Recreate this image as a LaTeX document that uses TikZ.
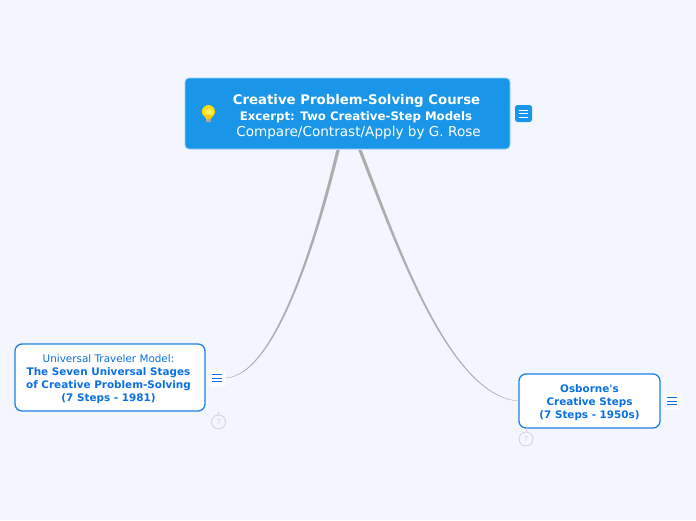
\documentclass[tikz,border=0pt]{standalone}
\usepackage{fontspec}
\setmainfont{DejaVu Sans}
\usetikzlibrary{calc}
\definecolor{pagebg}{HTML}{F3F6FF}
\definecolor{rootblue}{HTML}{1A96E9}
\definecolor{nodeblue}{HTML}{1E82E6}
\definecolor{textblue}{HTML}{0A70E4}
\definecolor{branchgray}{HTML}{ACACAC}
\definecolor{badgegray}{HTML}{CDD1D8}
\tikzset{
  rootbox/.style={draw=white!55!rootblue,fill=rootblue,rounded corners=4pt,line width=0.8pt,
    minimum width=325pt,minimum height=71pt,inner sep=0pt},
  topicbox/.style={draw=nodeblue,fill=white,rounded corners=7pt,line width=1.3pt,inner sep=0pt},
  topictext/.style={align=center,text=textblue,inner sep=0pt,font=\fontsize{10.4}{13.1}\selectfont},
  menubox/.style={rounded corners=2.5pt,minimum size=17pt,inner sep=0pt},
  badge/.style={draw=badgegray,fill=pagebg,circle,line width=0.8pt,minimum size=14pt,inner sep=0pt,
    text=badgegray,font=\fontsize{7}{7}\selectfont},
  branch/.style={draw=branchgray,fill=branchgray,line width=0.2pt,line join=round},
  stem/.style={draw=badgegray,line width=0.8pt}
}
% three bars of a menu icon, drawn round a named node
\newcommand{\menubars}[2]{
  \draw[#2,line width=0.8pt] ($(#1)+(-4.8,-3.5)$) -- ($(#1)+(4.8,-3.5)$);
  \draw[#2,line width=0.8pt] ($(#1)+(-4.8,0)$) -- ($(#1)+(4.8,0)$);
  \draw[#2,line width=0.8pt] ($(#1)+(-4.8,3.5)$) -- ($(#1)+(4.8,3.5)$);
}
\begin{document}
\begin{tikzpicture}[x=1pt,y=-1pt]
  \useasboundingbox (0,0) rectangle (696,520);
  \fill[pagebg] (0,0) rectangle (696,520);

  \node[rootbox] (root) at (347.5,113.5) {};
  \node[topicbox,minimum width=190pt,minimum height=67pt] (traveler) at (110,377.5) {};
  \node[topictext] (travelertext) at (108.5,379.3)
    {Universal Traveler Model:\\
     \textbf{The Seven Universal Stages}\\
     \textbf{of Creative Problem-Solving}\\
     \textbf{(7 Steps - 1981)}};
  \node[topicbox,minimum width=141pt,minimum height=54pt] (osborne) at (589.5,401) {};
  \node[topictext] (osbornetext) at (589.5,402.5)
    {\textbf{Osborne\textquotesingle s}\\
     \textbf{Creative Steps}\\
     \textbf{(7 Steps - 1950s)}};

  \node[menubox,fill=rootblue] (rootmenu) at (523.5,113.5) {};
  \node[menubox,fill=white] (travelermenu) at (217,378) {};
  \node[menubox,fill=white] (osbornemenu) at (672,401) {};
  \menubars{rootmenu}{white}
  \menubars{travelermenu}{textblue}
  \menubars{osbornemenu}{textblue}

  % tapered branches
  \coordinate (trunkleft) at (338,150);
  \coordinate (trunkright) at (360,150);
  \draw[branch] ($(trunkleft)+(-1.5,0)$) .. controls (317,232) and (276,375) .. (travelermenu.east)
    .. controls (277,375.5) and (319,233) .. ($(trunkleft)+(1.5,0)$) -- cycle;
  \draw[branch] ($(trunkright)+(-1.5,0)$) .. controls (394,240) and (448,396) .. (osborne.west)
    .. controls (448.5,395.5) and (396,239) .. ($(trunkright)+(1.5,0)$) -- cycle;

  \node[badge] (travelerbadge) at (218.5,422) {7};
  \node[badge] (osbornebadge) at (526,439) {7};
  \coordinate (travelerstem) at (218.5,412);
  \coordinate (osbornestem) at (526,428);
  \draw[stem] (travelerbadge) -- (travelerstem);
  \draw[stem] (osbornebadge) -- (osbornestem);

  \node[text=white,font=\fontsize{13.3}{13.3}\selectfont\bfseries] (roottitle) at (356.5,101) {Creative Problem-Solving Course};
  \node[text=white,font=\fontsize{11.75}{11.75}\selectfont\bfseries] (rootsub) at (356,117.5) {Excerpt: Two Creative-Step Models};
  \node[text=white,font=\fontsize{13.6}{13.6}\selectfont] (rootline) at (358.5,132.5) {Compare/Contrast/Apply by G. Rose};

  % light bulb
  \node[circle,inner sep=0pt,minimum size=13pt,
    inner color=yellow!55!white,outer color=yellow!65!orange] (bulb) at (208.5,111.5) {};
  \fill[yellow!65!orange] (204.5,115) -- (212.5,115) -- (211,119) -- (206,119) -- cycle;
  \fill[gray!70] (205.8,119) rectangle (211.2,122);
\end{tikzpicture}
\end{document}
